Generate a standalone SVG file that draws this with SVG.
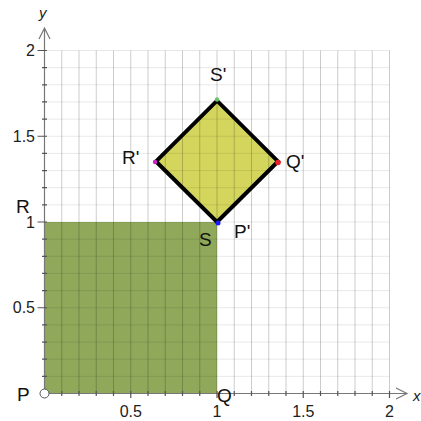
<svg xmlns="http://www.w3.org/2000/svg" width="421" height="421" viewBox="0 0 421 421">
<defs>
<style>
.lbl{font-family:"Liberation Sans",Arial,sans-serif;font-size:19px;fill:#111}
.num{font-family:"Liberation Sans",Arial,sans-serif;font-size:16px;fill:#222}
.ax{font-family:"Liberation Sans",Arial,sans-serif;font-size:15px;font-style:italic;fill:#222}
.gv{stroke:#000;stroke-opacity:0.2;stroke-width:1;fill:none}
.gh{stroke:#000;stroke-opacity:0.09;stroke-width:1;fill:none}
.axis{stroke:#777;stroke-width:1.2;fill:none}
.tick{stroke:#555;stroke-width:1.2;fill:none}
</style>
</defs>
<rect width="421" height="421" fill="#fff"/>
<g id="squarePQRS">
<rect x="44.5" y="222" width="172.5" height="171.5" fill="#8fa85a"/>
</g>
<g id="squarePQRSprime">
<polygon points="217,222 278,161.4 217,100.7 156,161.4" fill="#d4d55c"/>
</g>
<g id="grid">
<path class="gv" d="M61.75 393.5V50.5M79 393.5V50.5M96.25 393.5V50.5M113.5 393.5V50.5M130.75 393.5V50.5M148 393.5V50.5M165.25 393.5V50.5M182.5 393.5V50.5M199.75 393.5V50.5M217 393.5V50.5M234.25 393.5V50.5M251.5 393.5V50.5M268.75 393.5V50.5M286 393.5V50.5M303.25 393.5V50.5M320.5 393.5V50.5M337.75 393.5V50.5M355 393.5V50.5M372.25 393.5V50.5M389.5 393.5V50.5"/>
<path class="gh" d="M44.5 376.35H389.5M44.5 359.2H389.5M44.5 342.05H389.5M44.5 324.9H389.5M44.5 307.75H389.5M44.5 290.6H389.5M44.5 273.45H389.5M44.5 256.3H389.5M44.5 239.15H389.5M44.5 222H389.5M44.5 204.85H389.5M44.5 187.7H389.5M44.5 170.55H389.5M44.5 153.4H389.5M44.5 136.25H389.5M44.5 119.1H389.5M44.5 101.95H389.5M44.5 84.8H389.5M44.5 67.65H389.5M44.5 50.5H389.5"/>
</g>
<g id="axes">
<path class="axis" d="M44.5 393.5H407M396 388L407 393.5L396 399"/>
<path class="axis" d="M44.5 393.5V28M39 39L44.5 28L50 39"/>
<path class="tick" d="M61.75 391v5M79 391v5M96.25 391v5M113.5 391v5M130.75 391v7M148 391v5M165.25 391v5M182.5 391v5M199.75 391v5M217 391v7M234.25 391v5M251.5 391v5M268.75 391v5M286 391v5M303.25 391v7M320.5 391v5M337.75 391v5M355 391v5M372.25 391v5M389.5 391v7"/>
<path class="tick" d="M42 376.35h5M42 359.2h5M42 342.05h5M42 324.9h5M37.5 307.75h9.5M42 290.6h5M42 273.45h5M42 256.3h5M42 239.15h5M37.5 222h9.5M42 204.85h5M42 187.7h5M42 170.55h5M42 153.4h5M37.5 136.25h9.5M42 119.1h5M42 101.95h5M42 84.8h5M42 67.65h5M37.5 50.5h9.5"/>
<text class="num" x="130.75" y="417" text-anchor="middle">0.5</text>
<text class="num" x="217" y="417" text-anchor="middle">1</text>
<text class="num" x="303.25" y="417" text-anchor="middle">1.5</text>
<text class="num" x="389.5" y="417" text-anchor="middle">2</text>
<text class="num" x="35" y="313" text-anchor="end">0.5</text>
<text class="num" x="35" y="228" text-anchor="end">1</text>
<text class="num" x="35" y="142" text-anchor="end">1.5</text>
<text class="num" x="35" y="56" text-anchor="end">2</text>
<text class="ax" x="413" y="401">x</text>
<text class="ax" x="39" y="18">y</text>
</g>
<g id="connectors">
<polygon points="217,222 278,161.4 217,100.7 156,161.4" fill="none" stroke="#000" stroke-width="4" stroke-linejoin="miter"/>
</g>
<g id="points">
<circle cx="44.5" cy="393.5" r="4.5" fill="#fff" stroke="#555" stroke-width="1"/>
<circle cx="218" cy="223" r="2.5" fill="#1a1aff"/>
<circle cx="278" cy="162.5" r="2.8" fill="#e8202a"/>
<circle cx="217" cy="99.5" r="2.2" fill="#6cc26c"/>
<circle cx="155" cy="162" r="2.2" fill="#d020d0"/>
</g>
<g id="labels">
<text class="lbl" x="17" y="401">P</text>
<text class="lbl" x="217" y="402">Q</text>
<text class="lbl" x="16" y="213">R</text>
<text class="lbl" x="199" y="246">S</text>
<text class="lbl" x="234" y="238">P'</text>
<text class="lbl" x="286" y="168">Q'</text>
<text class="lbl" x="122" y="164">R'</text>
<text class="lbl" x="210" y="81">S'</text>
</g>
</svg>
